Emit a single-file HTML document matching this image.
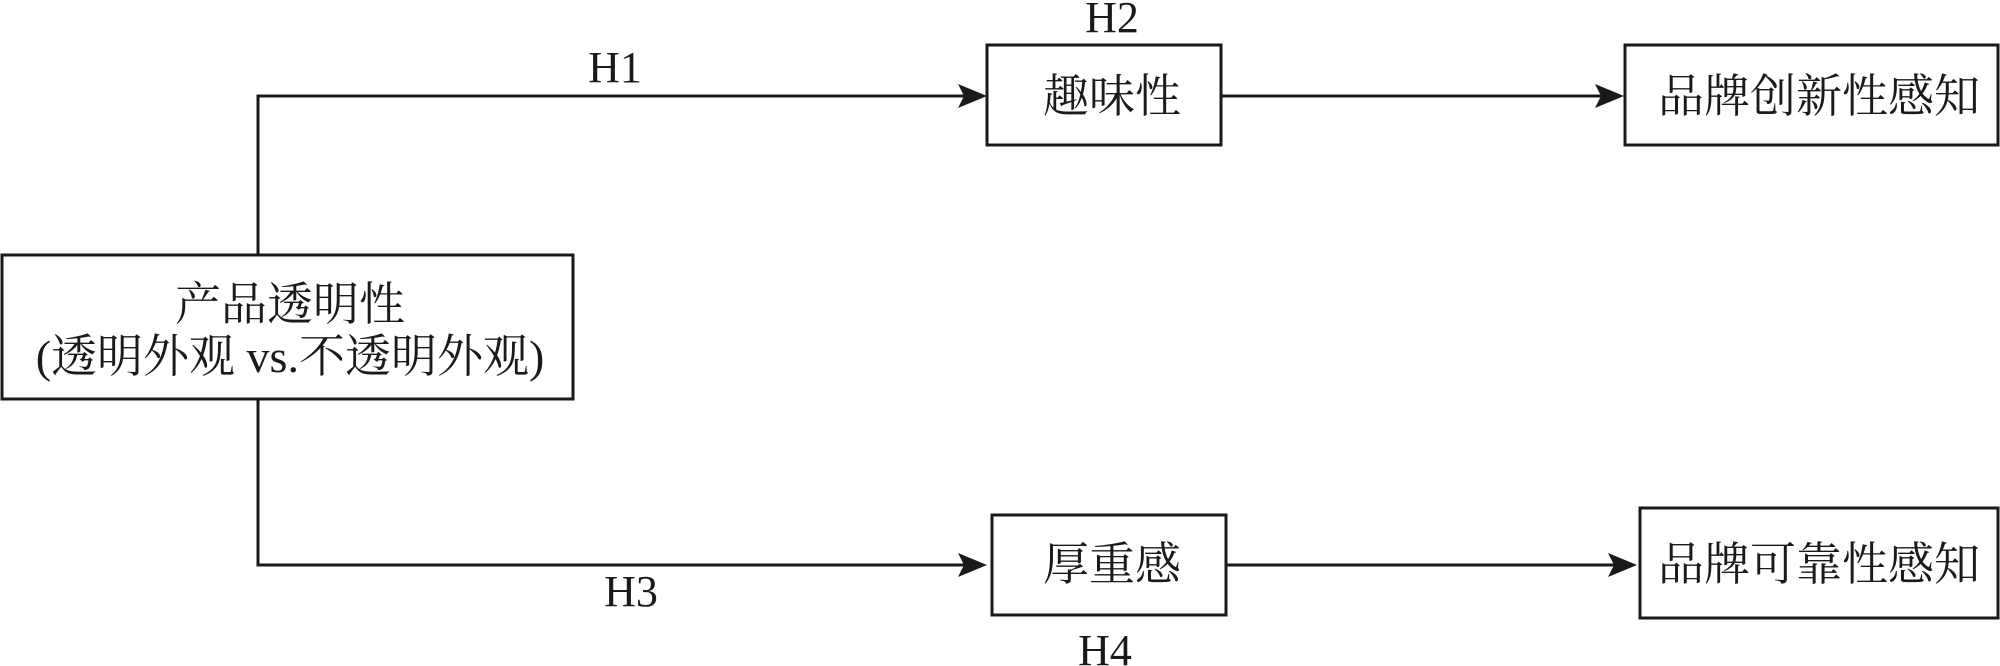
<!DOCTYPE html>
<html><head><meta charset="utf-8"><style>
html,body{margin:0;padding:0;background:#fff;}
svg{display:block;}
text{font-family:"Liberation Serif","Noto Serif CJK SC",serif;fill:#1a1a1a;}
</style></head><body>
<svg width="2000" height="666" viewBox="0 0 2000 666" xmlns="http://www.w3.org/2000/svg">
<g fill="none" stroke="#1a1a1a" stroke-width="3">
<rect x="2" y="255" width="571" height="144"/>
<rect x="987" y="45" width="234" height="100"/>
<rect x="1625" y="45" width="373" height="100"/>
<rect x="992" y="515" width="234" height="100"/>
<rect x="1640" y="508" width="358" height="110"/>
<polyline points="258,255 258,96 965,96"/>
<polyline points="258,399 258,565 965,565"/>
<line x1="1221" y1="96" x2="1602" y2="96"/>
<line x1="1226" y1="565" x2="1615" y2="565"/>
</g>
<g fill="#1a1a1a">
<polygon points="987,96 958,84 964,96 958,108"/>
<polygon points="987,565 958,553 964,565 958,577"/>
<polygon points="1624,96 1595,84 1601,96 1595,108"/>
<polygon points="1637,565 1608,553 1614,565 1608,577"/>
</g>
<g font-size="44" text-anchor="middle">
<text x="615" y="82">H1</text>
<text x="1112" y="32">H2</text>
<text x="631" y="606">H3</text>
<text x="1105" y="665">H4</text>
</g>
<g font-size="46" text-anchor="middle">
<text x="290" y="320">产品透明性</text>
<text x="290" y="372">(透明外观 vs.不透明外观)</text>
<text x="1112" y="112">趣味性</text>
<text x="1819" y="112">品牌创新性感知</text>
<text x="1112" y="580">厚重感</text>
<text x="1819" y="580">品牌可靠性感知</text>
</g>
</svg>
</body></html>
